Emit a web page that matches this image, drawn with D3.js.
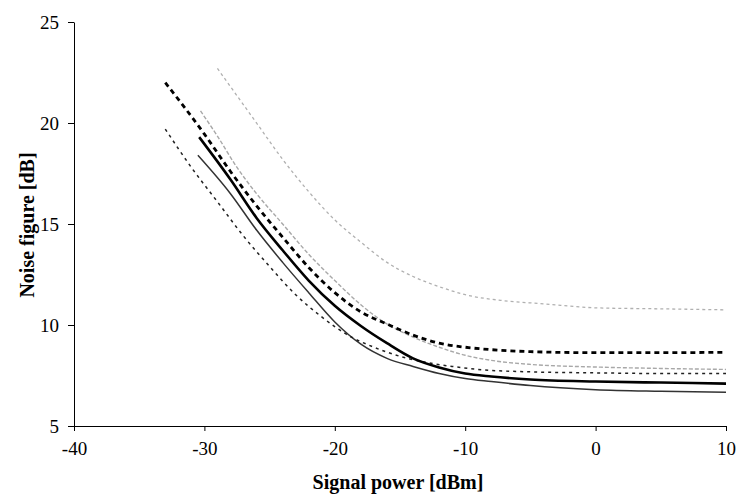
<!DOCTYPE html>
<html lang="en">
  <head>
    <meta charset="utf-8" />
    <title>Noise figure vs signal power</title>
    <script src="https://d3js.org/d3.v7.min.js"></script>
    <style>
      body {
        margin: 0;
        background: white;
      }
      .tick text {
        font-family: "Liberation Serif", "Times New Roman", serif;
        font-size: 19px;
        fill: black;
      }
      .axis-title {
        font-family: "Liberation Serif", "Times New Roman", serif;
        font-size: 20px;
        font-weight: bold;
      }
      .domain,
      .tick line {
        stroke: black;
        stroke-width: 1;
      }
    </style>
  </head>
  <body>
    <svg width="738" height="495"></svg>
    <script type="text/javascript">
      const xTicks = [-40, -30, -20, -10, 0, 10];
      const yTicks = [5, 10, 15, 20, 25];

      // [signal power dBm, noise figure dB]
      const thickDashed = [
        [-33, 22.0], [-30, 19.45], [-28, 17.6], [-26, 15.9], [-24, 14.35],
        [-22, 12.85], [-20, 11.6], [-18, 10.65], [-16, 10.05], [-14, 9.5],
        [-12, 9.1], [-10, 8.9], [-8, 8.78], [-5, 8.68], [0, 8.63], [5, 8.63],
        [10, 8.65],
      ];
      const thinDashed = [
        [-33, 19.7], [-31, 17.8], [-29, 16.1], [-27, 14.4], [-25, 12.9],
        [-23, 11.5], [-21, 10.4], [-19, 9.5], [-17, 8.9], [-15, 8.45],
        [-13, 8.15], [-11, 7.95], [-9, 7.8], [-5, 7.68], [0, 7.63], [5, 7.6],
        [10, 7.6],
      ];
      const thickSolid = [
        [-30.4, 19.3], [-28, 17.2], [-26, 15.3], [-24, 13.7], [-22, 12.2],
        [-20, 10.95], [-18, 9.95], [-16, 9.1], [-14, 8.35], [-12, 7.9],
        [-10, 7.6], [-8, 7.45], [-5, 7.3], [0, 7.2], [5, 7.15], [10, 7.1],
      ];
      const thinSolid = [
        [-30.5, 18.4], [-28, 16.5], [-26, 14.7], [-24, 13.1], [-22, 11.6],
        [-20, 10.15], [-18, 9.05], [-16, 8.35], [-14, 7.95], [-12, 7.6],
        [-10, 7.35], [-8, 7.2], [-5, 7.0], [0, 6.8], [5, 6.72], [10, 6.67],
      ];
      const greyLow = [
        [-30.3, 20.6], [-29, 19.35], [-27.5, 17.8], [-26, 16.5], [-24, 15.0],
        [-22, 13.5], [-20, 12.2], [-18, 11.0], [-16, 10.05], [-14, 9.4],
        [-12, 8.9], [-10, 8.5], [-8, 8.25], [-5, 8.05], [0, 7.92], [5, 7.85],
        [10, 7.8],
      ];
      const greyHigh = [
        [-29, 22.7], [-28, 21.8], [-26, 20.0], [-24, 18.2], [-22, 16.6],
        [-20, 15.2], [-18, 14.1], [-16, 13.1], [-14, 12.4], [-12, 11.9],
        [-10, 11.5], [-7, 11.2], [-4, 11.05], [0, 10.85], [5, 10.8],
        [10, 10.75],
      ];

      const series = [
        { values: greyHigh, colour: "#b0b0b0", width: 1.3, dash: "3,3" },
        { values: greyLow, colour: "#a8a8a8", width: 1.4, dash: "4,2" },
        { values: thinSolid, colour: "#333", width: 1.5, dash: null },
        { values: thinDashed, colour: "#222", width: 1.5, dash: "3,4" },
        { values: thickSolid, colour: "black", width: 2.6, dash: null },
        { values: thickDashed, colour: "black", width: 2.8, dash: "5,4" },
      ];

      const svg = d3.select("svg");

      const x = d3.scaleLinear().domain([-40, 10]).range([74, 726]);
      const y = d3.scaleLinear().domain([5, 25]).range([426, 22]);

      svg
        .append("g")
        .attr("transform", "translate(0,426)")
        .call(
          d3
            .axisBottom(x)
            .tickValues(xTicks)
            .tickFormat((d) => String(d))
            .tickSize(5)
            .tickSizeOuter(0)
            .tickPadding(11)
        );

      svg
        .append("g")
        .attr("transform", "translate(74,0)")
        .call(
          d3
            .axisLeft(y)
            .tickValues(yTicks)
            .tickFormat((d) => String(d))
            .tickSize(6)
            .tickSizeOuter(0)
            .tickPadding(9)
        );

      const line = d3
        .line()
        .x((d) => x(d[0]))
        .y((d) => y(d[1]))
        .curve(d3.curveMonotoneX);

      svg
        .append("g")
        .selectAll("path")
        .data(series)
        .join("path")
        .attr("d", (d) => line(d.values))
        .attr("fill", "none")
        .attr("stroke", (d) => d.colour)
        .attr("stroke-width", (d) => d.width)
        .attr("stroke-dasharray", (d) => d.dash);

      svg
        .append("text")
        .attr("class", "axis-title")
        .attr("x", 398)
        .attr("y", 489)
        .attr("text-anchor", "middle")
        .text("Signal power [dBm]");

      svg
        .append("text")
        .attr("class", "axis-title")
        .attr("transform", "translate(34,225) rotate(-90)")
        .attr("text-anchor", "middle")
        .text("Noise figure [dB]");
    </script>
  </body>
</html>
